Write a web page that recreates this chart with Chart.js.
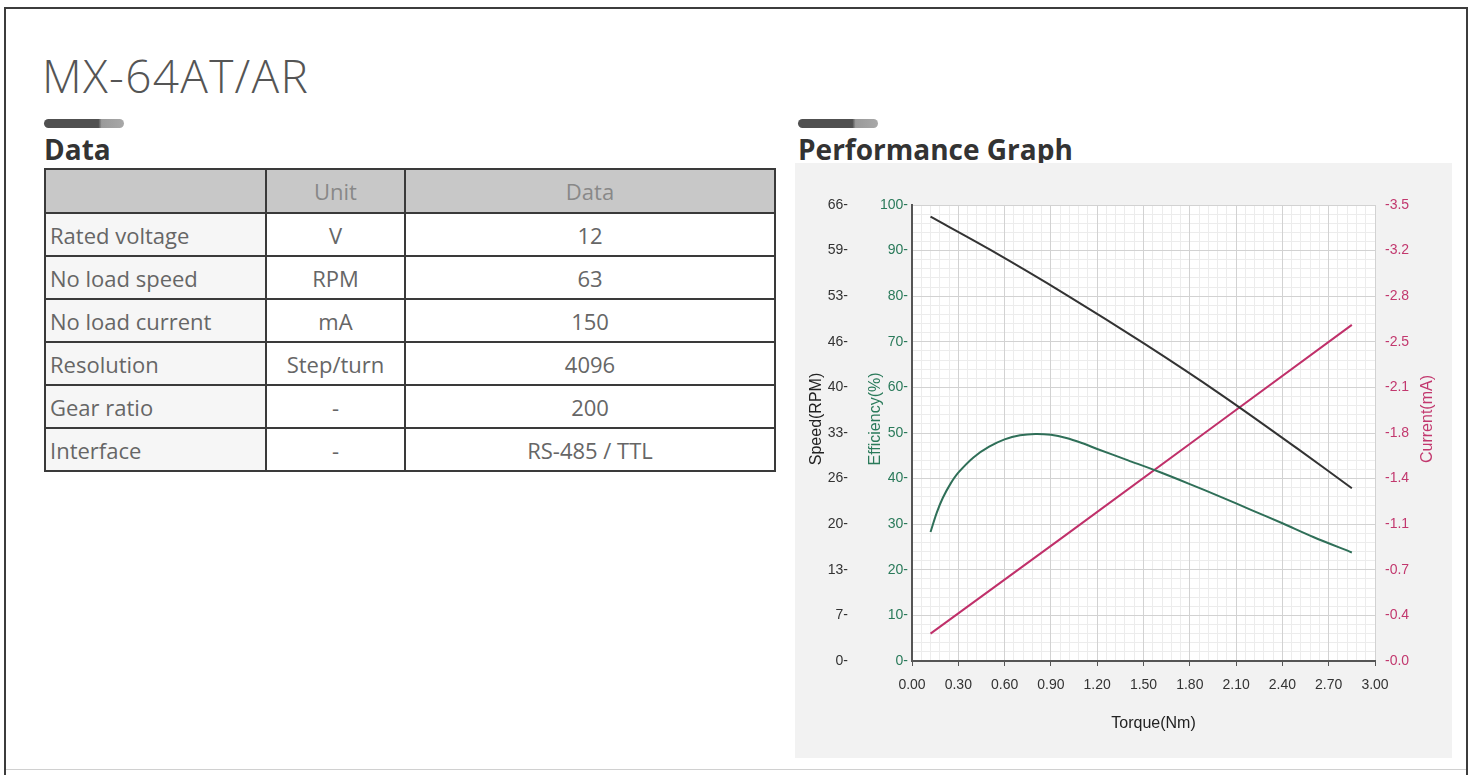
<!DOCTYPE html>
<html>
<head>
<meta charset="utf-8">
<title>MX-64AT/AR</title>
<script src="https://cdn.jsdelivr.net/npm/chart.js@4.4.1/dist/chart.umd.min.js"></script>
<style>
    html, body { margin: 0; padding: 0; background: #fff; }
    body { width: 1474px; height: 775px; position: relative; overflow: hidden; font-family: "Open Sans", "Noto Sans", sans-serif; }
    .marco { position: absolute; left: 4px; top: 7px; width: 1460px; height: 790px; border: 2px solid #3c3c3c; }
    .pie { position: absolute; left: 6px; top: 769px; width: 1460px; border-top: 1px solid #d0d0d0; }
    .titulo { position: absolute; left: 42px; top: 44px; font-size: 46px; font-weight: 300; color: #555; letter-spacing: 1.3px; }
    .barra { position: absolute; top: 119px; width: 80px; height: 9px; border-radius: 5px;
        background: linear-gradient(to right, #505050 0, #505050 68%, #9a9a9a 72%, #a8a8a8 100%); }
    .seccion { position: absolute; top: 130px; font-size: 28px; font-weight: 700; color: #333; }
    table { position: absolute; left: 44px; top: 168px; width: 732px; border-collapse: collapse;
        font-size: 22px; color: #666; }
    td, th { border: 2px solid #3a3a3a; height: 41px; padding: 0 4px; font-weight: normal; }
    th { background: #c8c8c8; color: #888; height: 42px; }
    td { text-align: center; background: #fff; }
    td:first-child { text-align: left; background: #f6f6f6; }
    .panel { position: absolute; left: 795px; top: 163px; width: 657px; height: 595px; background: #f2f2f2; }
</style>
</head>
<body>
<div class="marco"></div>
<div class="pie"></div>
<div class="titulo">MX-64AT/AR</div>

<div class="barra" style="left:44px"></div>
<div class="seccion" style="left:44px">Data</div>
<table>
    <tr><th style="width:211px"></th><th style="width:129px">Unit</th><th>Data</th></tr>
    <tr><td>Rated voltage</td><td>V</td><td>12</td></tr>
    <tr><td>No load speed</td><td>RPM</td><td>63</td></tr>
    <tr><td>No load current</td><td>mA</td><td>150</td></tr>
    <tr><td>Resolution</td><td>Step/turn</td><td>4096</td></tr>
    <tr><td>Gear ratio</td><td>-</td><td>200</td></tr>
    <tr><td>Interface</td><td>-</td><td>RS-485 / TTL</td></tr>
</table>

<div class="barra" style="left:798px"></div>
<div class="seccion" style="left:798px">Performance Graph</div>
<div class="panel"><canvas id="graficoRendimiento"></canvas></div>

<script>
const torqueVelocidad = [0.12, 0.50, 1.00, 1.50, 2.00, 2.50, 2.85];
const velocidad = [64.3, 59.6, 53.0, 46.0, 38.6, 30.7, 25.0];

const torqueEficiencia = [0.12, 0.16, 0.20, 0.25, 0.30, 0.40, 0.50, 0.60, 0.70, 0.80, 0.90, 1.00,
    1.10, 1.20, 1.40, 1.60, 1.80, 2.00, 2.20, 2.40, 2.60, 2.85];
const eficiencia = [28.3, 32.5, 35.8, 38.9, 41.3, 44.7, 47.0, 48.6, 49.5, 49.8, 49.6, 48.9,
    47.8, 46.5, 44.0, 41.5, 38.8, 36.0, 33.1, 30.2, 27.2, 23.8];

const torqueCorriente = [0.12, 1.00, 2.00, 2.85];
const corriente = [0.21, 0.97, 1.84, 2.58];

// Etiquetas de los ejes
const etiquetasTorque = ['0.00', '0.30', '0.60', '0.90', '1.20', '1.50', '1.80', '2.10', '2.40', '2.70', '3.00'];
const etiquetasVelocidad = ['0', '7', '13', '20', '26', '33', '40', '46', '53', '59', '66'];
const etiquetasEficiencia = ['0', '10', '20', '30', '40', '50', '60', '70', '80', '90', '100'];
const etiquetasCorriente = ['0.0', '0.4', '0.7', '1.1', '1.4', '1.8', '2.1', '2.5', '2.8', '3.2', '3.5'];

const FUENTE = '"Liberation Sans", Arial, sans-serif';
const VERDE = '#2a7a5a';
const ROSA = '#c2386e';

// 11 marcas repartidas entre 0 y el máximo
function marcasIguales(max) {
    return (scale) => {
        scale.ticks = Array.from({ length: 11 }, (_, i) => ({ value: max * i / 10 }));
    };
}

function puntos(xs, ys) {
    return xs.map((t, i) => ({ x: t, y: ys[i] }));
}

// Fondo blanco del área de trazado y títulos de los ejes
const fondoYTitulos = {
    id: 'fondoYTitulos',
    beforeDraw(chart) {
        const { ctx, chartArea: a } = chart;
        ctx.save();
        ctx.fillStyle = '#ffffff';
        ctx.fillRect(a.left, a.top, a.right - a.left, a.bottom - a.top);
        ctx.restore();
    },
    afterDraw(chart) {
        const { ctx, chartArea: a, scales } = chart;
        const medio = (a.top + a.bottom) / 2 - 14;
        const texto = (t, x, y, color, rot) => {
            ctx.save();
            ctx.translate(x, y);
            ctx.rotate(rot);
            ctx.font = '16px ' + FUENTE;
            ctx.fillStyle = color;
            ctx.textAlign = 'center';
            ctx.textBaseline = 'middle';
            ctx.fillText(t, 0, 0);
            ctx.restore();
        };
        texto('Speed(RPM)', scales.yVelocidad.left + 14, medio, '#222', -Math.PI / 2);
        texto('Efficiency(%)', scales.yEficiencia.left + 17, medio, VERDE, -Math.PI / 2);
        texto('Current(mA)', scales.yCorriente.right - 11, medio, ROSA, -Math.PI / 2);
        texto('Torque(Nm)', (a.left + a.right) / 2 + 10, scales.x.bottom - 12, '#222', 0);
    }
};

const ctx = document.getElementById('graficoRendimiento').getContext('2d');
new Chart(ctx, {
    type: 'line',
    data: {
        datasets: [
            { label: 'Speed', data: puntos(torqueVelocidad, velocidad), yAxisID: 'yVelocidad',
                borderColor: '#333333', borderWidth: 2, tension: 0.3, cubicInterpolationMode: 'default' },
            { label: 'Efficiency', data: puntos(torqueEficiencia, eficiencia), yAxisID: 'yEficiencia',
                borderColor: '#2f6f58', borderWidth: 2, tension: 0.3, cubicInterpolationMode: 'default' },
            { label: 'Current', data: puntos(torqueCorriente, corriente), yAxisID: 'yCorriente',
                borderColor: '#c0306a', borderWidth: 2, tension: 0 }
        ]
    },
    options: {
        responsive: true,
        maintainAspectRatio: false,
        animation: false,
        layout: { padding: { left: 8, right: 13, top: 42, bottom: 22 } },
        elements: {
            point: { radius: 0 }
        },
        plugins: { legend: { display: false }, tooltip: { enabled: false } },
        scales: {
            x: {
                type: 'linear', min: 0, max: 3, weight: 0,
                afterBuildTicks: marcasIguales(3),
                afterFit: (s) => { s.height = 75; },
                grid: { color: '#d2d2d2', tickColor: '#555', tickLength: 5 },
                border: { display: true, color: '#555', width: 2 },
                ticks: { padding: 11, color: '#333', font: { family: FUENTE, size: 14 },
                    maxRotation: 0, autoSkip: false, callback: (v, i) => etiquetasTorque[i] }
            },
            xMenor: {
                type: 'linear', position: 'bottom', min: 0, max: 3, weight: 1,
                afterFit: (s) => { s.height = 0; },
                grid: { color: '#ececec', drawTicks: false, z: -2 },
                border: { display: false },
                ticks: { stepSize: 0.06, display: false }
            },
            yMenor: {
                type: 'linear', position: 'left', min: 0, max: 100, weight: 0,
                afterFit: (s) => { s.width = 0; },
                grid: { color: '#ececec', drawTicks: false, z: -2 },
                border: { display: false },
                ticks: { stepSize: 2, display: false }
            },
            yEficiencia: {
                type: 'linear', position: 'left', min: 0, max: 100, weight: 1,
                afterBuildTicks: marcasIguales(100),
                afterFit: (s) => { s.width = 53; },
                grid: { color: '#d2d2d2', drawTicks: false },
                border: { display: true, color: '#555', width: 2 },
                ticks: { padding: 4, color: VERDE, font: { family: FUENTE, size: 14 },
                    autoSkip: false, callback: (v, i) => etiquetasEficiencia[i] + '-' }
            },
            yVelocidad: {
                type: 'linear', position: 'left', min: 0, max: 66, weight: 2,
                afterBuildTicks: marcasIguales(66),
                afterFit: (s) => { s.width = 56; },
                grid: { display: false },
                border: { display: false },
                ticks: { padding: 3, color: '#333', font: { family: FUENTE, size: 14 },
                    autoSkip: false, callback: (v, i) => etiquetasVelocidad[i] + '-' }
            },
            yCorriente: {
                type: 'linear', position: 'right', min: 0, max: 3.5, weight: 1,
                afterBuildTicks: marcasIguales(3.5),
                afterFit: (s) => { s.width = 64; },
                grid: { display: false },
                border: { display: false },
                ticks: { padding: 2, color: ROSA, font: { family: FUENTE, size: 14 },
                    autoSkip: false, callback: (v, i) => '-' + etiquetasCorriente[i] }
            }
        }
    },
    plugins: [fondoYTitulos]
});
</script>
</body>
</html>
